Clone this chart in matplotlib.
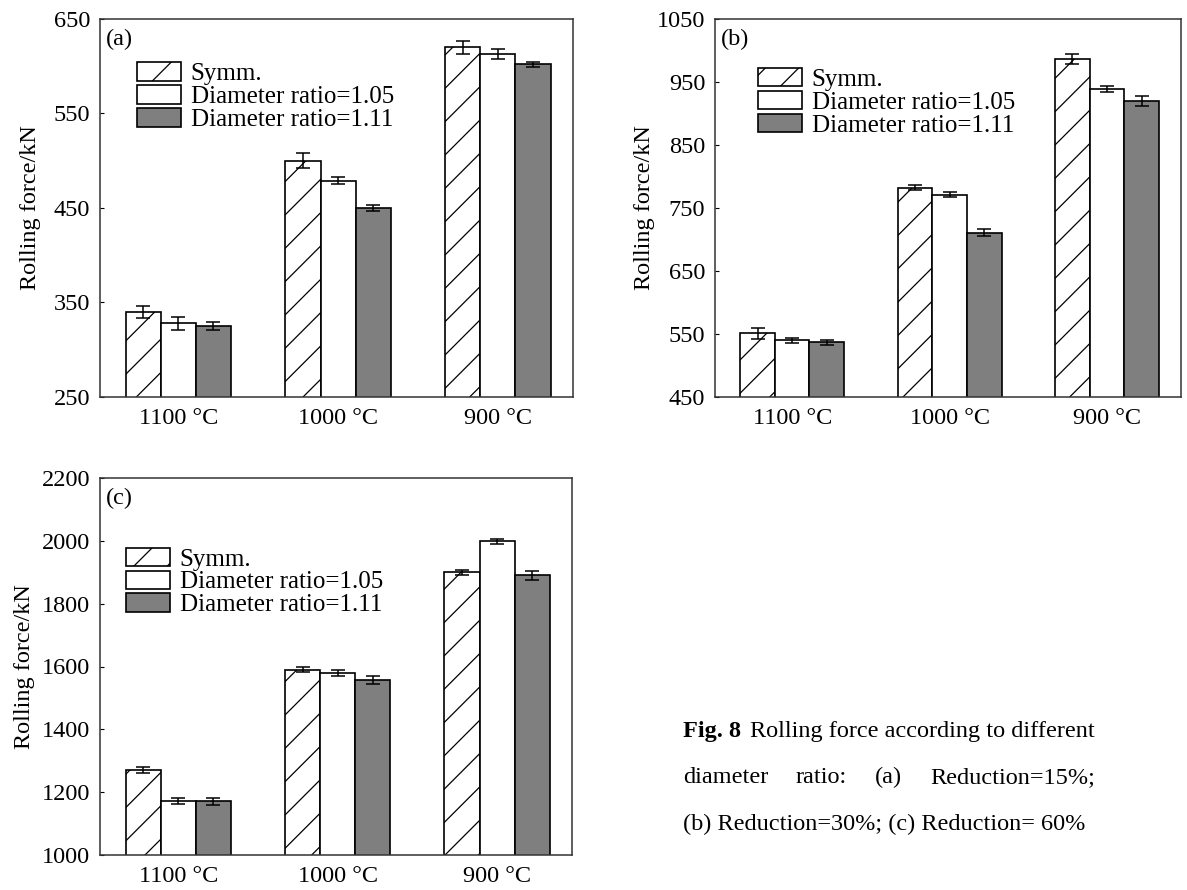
import matplotlib
matplotlib.use('Agg')
import matplotlib.pyplot as plt
import numpy as np

plt.rcParams['font.family'] = ['Liberation Serif', 'DejaVu Serif']
plt.rcParams['hatch.linewidth'] = 0.9
plt.rcParams['hatch.color'] = '#222222'

# categories
temps = ['1100 °C', '1000 °C', '900 °C']
series = ['Symm.', 'Diameter ratio=1.05', 'Diameter ratio=1.11']

# (a) Reduction=15%
a_symm = [340, 500, 620]
a_d105 = [328, 479, 613]
a_d111 = [325, 450, 602]
a_symm_err = [6, 8, 7]
a_d105_err = [7, 4, 5]
a_d111_err = [4, 3, 3]
a_ticks = [250, 350, 450, 550, 650]

# (b) Reduction=30%
b_symm = [551, 782, 986]
b_d105 = [540, 771, 939]
b_d111 = [537, 711, 920]
b_symm_err = [9, 4, 8]
b_d105_err = [4, 4, 5]
b_d111_err = [4, 5, 8]
b_ticks = [450, 550, 650, 750, 850, 950, 1050]

# (c) Reduction=60%
c_symm = [1271, 1590, 1900]
c_d105 = [1171, 1580, 1998]
c_d111 = [1171, 1557, 1890]
c_symm_err = [9, 8, 8]
c_d105_err = [10, 9, 8]
c_d111_err = [11, 13, 14]
c_ticks = [1000, 1200, 1400, 1600, 1800, 2000, 2200]

W, H = 1187, 890
fig = plt.figure(figsize=(W / 100, H / 100), dpi=100)


def px_axes(left, top, right, bottom):
    return fig.add_axes([left / W, 1 - bottom / H, (right - left) / W, (bottom - top) / H])


def panel(ax, vals, errs, ticks, tag, leg_xy, ylab_x):
    x = np.arange(len(temps))
    width = 0.22
    styles = [dict(facecolor='white', hatch='/'),
              dict(facecolor='white'),
              dict(facecolor='#7f7f7f')]
    for i in range(3):
        xs = x + (i - 1) * width
        ax.bar(xs, vals[i], width, edgecolor='black', linewidth=1.2,
               label=series[i], zorder=2, **styles[i])
        ax.errorbar(xs, vals[i], yerr=errs[i], fmt='none', ecolor='black',
                    elinewidth=1.1, capsize=5, capthick=1.1, zorder=3)
    ax.set_xlim(-0.49, 2.47)
    ax.set_ylim(ticks[0], ticks[-1])
    ax.set_yticks(ticks)
    ax.set_xticks(x)
    ax.set_xticklabels(temps)
    ax.tick_params(axis='y', direction='in', length=3, pad=7, labelsize=17.5)
    ax.tick_params(axis='x', length=0, pad=8, labelsize=17.5)
    for s in ax.spines.values():
        s.set_linewidth(1.1)
        s.set_color('#333333')
    ax.set_ylabel('Rolling force/kN', fontsize=17.5)
    ax.yaxis.set_label_coords(ylab_x, 0.5)
    ax.text(0.012, 0.975, tag, transform=ax.transAxes, ha='left', va='top', fontsize=17.5)
    ax.legend(loc='upper left', bbox_to_anchor=leg_xy, frameon=False, fontsize=18,
              handlelength=1.75, handleheight=0.75, handletextpad=0.4,
              labelspacing=0.0, borderpad=0, borderaxespad=0)


ax_a = px_axes(100, 19, 573, 397)
panel(ax_a, [a_symm, a_d105, a_d111], [a_symm_err, a_d105_err, a_d111_err],
      a_ticks, '(a)', (0.078, 0.885), -0.125)

ax_b = px_axes(715, 19, 1181, 397)
panel(ax_b, [b_symm, b_d105, b_d111], [b_symm_err, b_d105_err, b_d111_err],
      b_ticks, '(b)', (0.092, 0.87), -0.129)

ax_c = px_axes(100, 478, 572, 855)
panel(ax_c, [c_symm, c_d105, c_d111], [c_symm_err, c_d105_err, c_d111_err],
      c_ticks, '(c)', (0.055, 0.815), -0.138)

# caption
cap = 17.5
fig.text(683 / W, 1 - 737 / H, 'Fig. 8', fontsize=cap, fontweight='bold', va='baseline')
fig.text(1095 / W, 1 - 737 / H, 'Rolling force according to different', fontsize=cap,
         va='baseline', ha='right')
fig.text(683 / W, 1 - 783 / H, 'diameter', fontsize=cap, va='baseline')
fig.text(796 / W, 1 - 783 / H, 'ratio:', fontsize=cap, va='baseline')
fig.text(875 / W, 1 - 783 / H, '(a)', fontsize=cap, va='baseline')
fig.text(1095 / W, 1 - 783 / H, 'Reduction=15%;', fontsize=cap, va='baseline', ha='right')
fig.text(683 / W, 1 - 830 / H, '(b) Reduction=30%; (c) Reduction= 60%', fontsize=cap, va='baseline')

fig.savefig('out.png', dpi=100)
